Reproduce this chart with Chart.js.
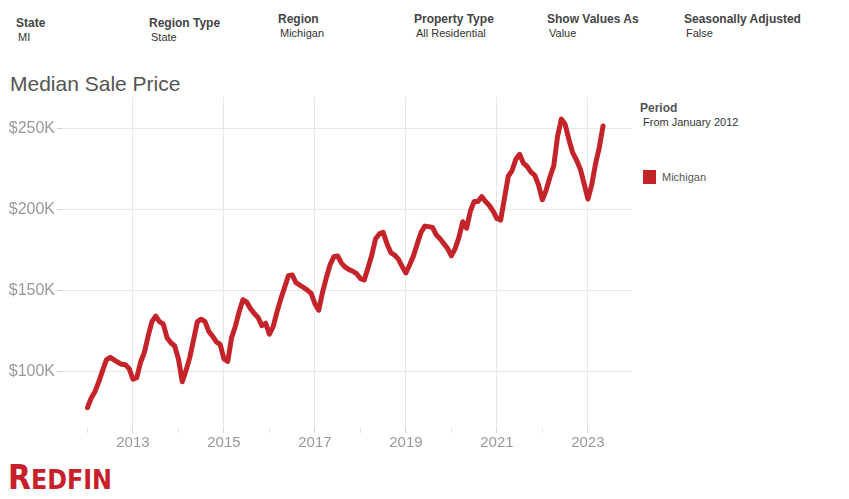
<!DOCTYPE html>
<html>
<head>
<meta charset="utf-8">
<script src="https://cdn.jsdelivr.net/npm/chart.js@4.4.1/dist/chart.umd.min.js"></script>
<style>
  html, body { margin:0; padding:0; background:#fff; }
  body { width:849px; height:499px; position:relative; overflow:hidden; font-family:"Liberation Sans", Arial, sans-serif; }
  .t { position:absolute; white-space:nowrap; line-height:1; }
  .h { font-weight:bold; font-size:12px; color:#444; }
  .v { font-size:11px; color:#333; }
  #title { left:10px; top:73px; font-size:21px; color:#555; }
  #wrap { position:absolute; left:0; top:90px; width:640px; height:370px; }
  #sw { position:absolute; left:643px; top:170px; width:13px; height:14px; background:#c5232a; }
  #logo { left:8px; top:461px; color:#c8202a; font-family:"Liberation Sans Narrow","DejaVu Sans Condensed",sans-serif; font-weight:bold; }
</style>
</head>
<body>
<div class="t h" style="left:16px;top:17px">State</div>
<div class="t v" style="left:18px;top:32px">MI</div>
<div class="t h" style="left:149px;top:17px">Region Type</div>
<div class="t v" style="left:151px;top:32px">State</div>
<div class="t h" style="left:278px;top:13px">Region</div>
<div class="t v" style="left:280px;top:28px">Michigan</div>
<div class="t h" style="left:414px;top:13px">Property Type</div>
<div class="t v" style="left:416px;top:28px">All Residential</div>
<div class="t h" style="left:547px;top:13px">Show Values As</div>
<div class="t v" style="left:549px;top:28px">Value</div>
<div class="t h" style="left:684px;top:13px">Seasonally Adjusted</div>
<div class="t v" style="left:686px;top:28px">False</div>

<div class="t" id="title">Median Sale Price</div>

<div class="t h" style="left:640px;top:102px;color:#555">Period</div>
<div class="t v" style="left:643px;top:117px">From January 2012</div>
<div id="sw"></div>
<div class="t v" style="left:662px;top:172px;color:#555">Michigan</div>

<div class="t" id="logo"><span style="font-size:33px">R</span><span style="font-size:26.5px">EDFIN</span></div>

<div id="wrap"><canvas id="c"></canvas></div>

<script>
// Data: monthly median sale price (thousands of USD), Michigan, starting January 2012
const seriesName = "Michigan";
const startYear = 2012;
const medianPriceK = [
  78,84,88,94,101,107.5,109,107.5,106,104.7,104.5,102,
  95.5,96.5,106,112,122,131,134.4,131,129.5,121,118,116,
  108,94,101,109,120,131,132.5,131,125,122,118.5,117,
  108,106.5,121,128,137,144.5,143,139,136,133.5,128.5,130,
  123.3,128,137,145,152,159.3,159.7,155,153.5,152,150.4,148.4,
  142,138,149,158,166,171,171.4,167,164.5,163,162,160.5,
  157.5,156.6,164,172,182,185,186,179,173.5,172,169.5,165,
  161,166,171.5,179,186,189.8,189.5,189,184.5,182,179,176,
  171.5,176,183,192.5,188.5,199,205,205,208,205,202.5,199,
  194.5,193.5,207,220.5,224,231,234,228.5,226.5,223,221,215,
  206,212,220,227,245,255.7,252.5,243,235,230.5,225,216,
  206.5,215,228,238,251.5
];
const yTickValues = [100, 150, 200, 250];
const xTickYears = [2012,2013,2014,2015,2016,2017,2018,2019,2020,2021,2022,2023];
const xLabeledYears = [2013,2015,2017,2019,2021,2023];

const points = medianPriceK.map((v, i) => ({ x: startYear + i / 12, y: v }));
const FONT = "'Liberation Sans', Arial, sans-serif";
const GRID = '#e8e8e8';

new Chart(document.getElementById('c'), {
  type: 'line',
  data: { datasets: [{
    label: seriesName, data: points,
    borderColor: '#c5232a', borderWidth: 5, pointRadius: 0, tension: 0,
    borderJoinStyle: 'round', borderCapStyle: 'round', fill: false
  }]},
  options: {
    responsive: true, maintainAspectRatio: false, animation: false,
    layout: { padding: { top: 7, right: 8, left: 0, bottom: 0 } },
    plugins: { legend: { display: false }, tooltip: { enabled: false } },
    scales: {
      x: {
        type: 'linear', min: 2011.44, max: 2023.97,
        afterBuildTicks: s => { s.ticks = xTickYears.map(v => ({ value: v })); },
        afterFit: s => { s.height = 32; s.paddingLeft = 0; s.paddingRight = 0; },
        ticks: {
          autoSkip: false, maxRotation: 0, padding: 1, color: '#999',
          font: { family: FONT, size: 15 },
          callback: v => xLabeledYears.includes(v) ? String(v) : ''
        },
        grid: {
          color: c => (c.tick && xLabeledYears.includes(c.tick.value)) ? GRID : 'rgba(0,0,0,0)',
          tickColor: c => (c.tick && xLabeledYears.includes(c.tick.value)) ? '#d6d6d6' : '#e4e4e4',
          tickLength: 5, drawTicks: true
        },
        border: { display: false }
      },
      y: {
        min: 65.5, max: 269.3,
        afterBuildTicks: s => { s.ticks = yTickValues.map(v => ({ value: v })); },
        afterFit: s => { s.width = 62; s.paddingTop = 0; s.paddingBottom = 0; },
        ticks: { padding: 2, color: '#999', font: { family: FONT, size: 16 }, callback: v => '$' + v + 'K' },
        grid: { color: GRID, tickColor: '#cfcfcf', tickLength: 5 },
        border: { display: false }
      }
    }
  }
});
</script>
</body>
</html>
